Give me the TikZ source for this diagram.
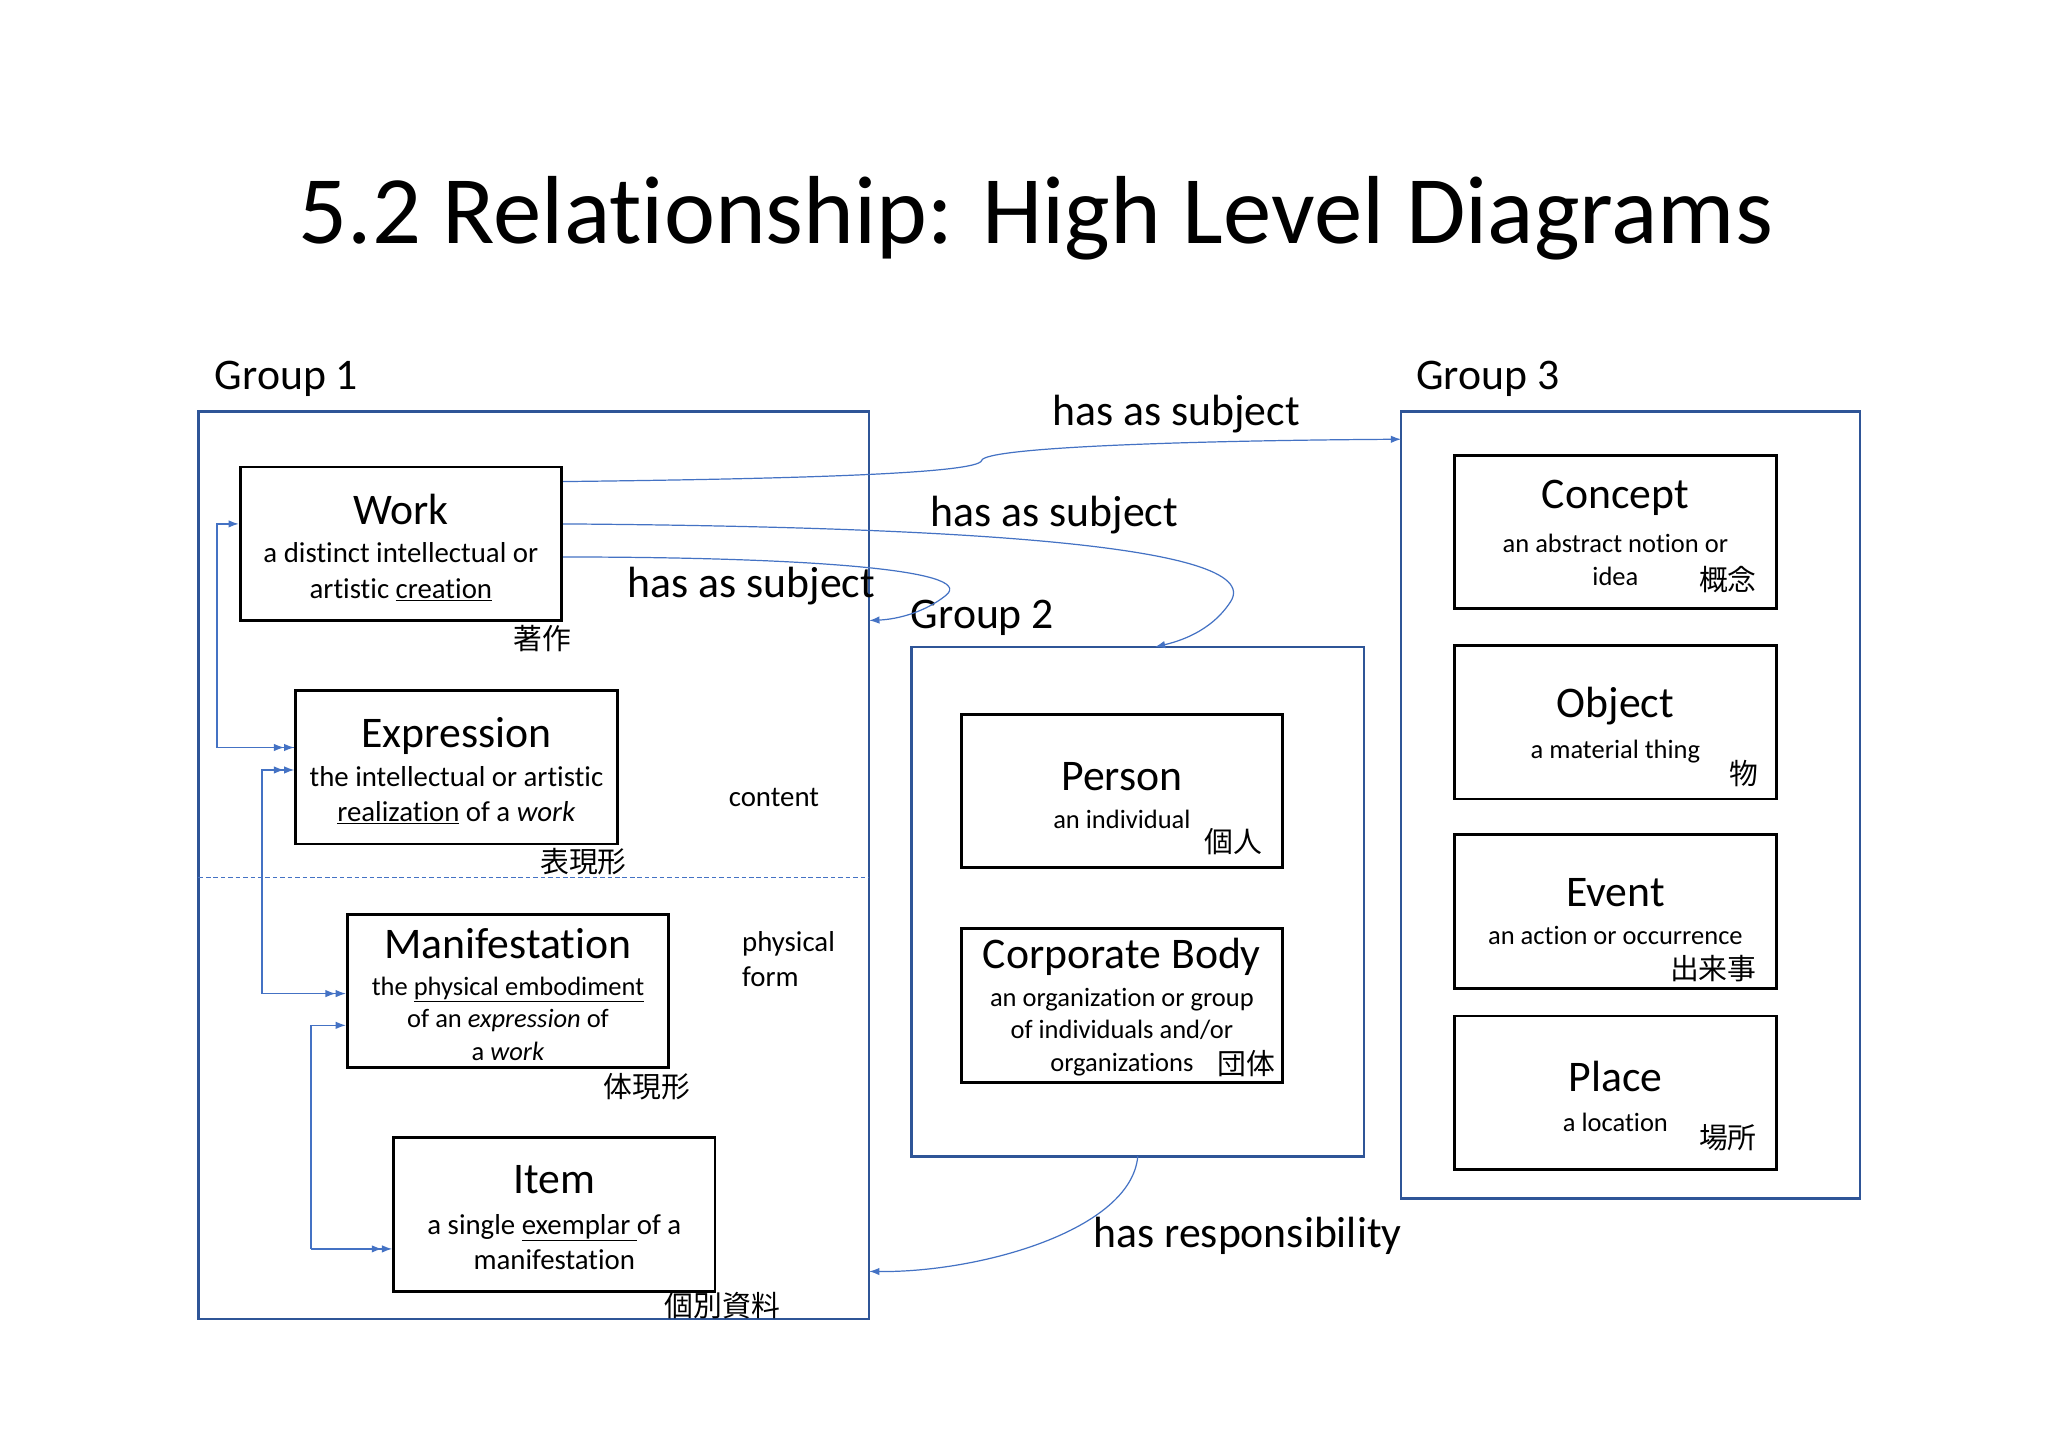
\documentclass[tikz,border=0pt]{standalone}
\usepackage{fontspec}
\setmainfont{Carlito}[Ligatures={NoCommon}]
\newfontfamily\cjk{Noto Sans CJK JP}
\usetikzlibrary{arrows.meta}
\definecolor{gb}{RGB}{47,85,151}
\definecolor{ab}{RGB}{68,114,196}
\begin{document}
\begin{tikzpicture}[x=0.05cm,y=-0.05cm,
 grp/.style={draw=gb,line width=2.6pt},
 box/.style={draw=black,line width=3pt,minimum width=12.15cm,minimum height=5.8cm,inner sep=0pt},
 ttl/.style={font=\fontsize{47}{50}\selectfont},
 dsc/.style={font=\fontsize{31}{38}\selectfont,align=center},
 sdsc/.style={font=\fontsize{28.5}{35}\selectfont,align=center},
 jp/.style={font=\fontsize{31}{34}\selectfont\cjk},
 lbl/.style={font=\fontsize{47}{52}\selectfont},
 ar/.style={draw=ab,line width=1.3pt,-{Latex[length=11pt,width=8pt]}},
 ar2/.style={draw=ab,line width=1.3pt,-{Latex[length=11pt,width=8pt]Latex[length=11pt,width=8pt]}}]
\useasboundingbox (0,0) rectangle (1548,1094);
\fill[white] (0,0) rectangle (1548,1094);
\node[font=\fontsize{104}{110}\selectfont] (title) at (783,165) {5.2 Relationship: High Level Diagrams};
% groups
\draw[grp] (150,311) rectangle (657,997);
\draw[grp] (689,489) rectangle (1031,874);
\draw[grp] (1059,311) rectangle (1406,906);
\coordinate (g1r) at (657,469);
\coordinate (g1r2) at (657,961);
\coordinate (g2t) at (873,489);
\coordinate (g2b) at (860,874);
\coordinate (g3l) at (1059,332);
\node[lbl,anchor=west] (G1) at (160,286) {Group 1};
\node[lbl,anchor=west] (G2) at (686,467) {Group 2};
\node[lbl,anchor=west] (G3) at (1068,286) {Group 3};
\draw[ab,dash pattern=on 5pt off 3pt,line width=1.1pt] (150,663) -- (657,663);
% group 1 boxes
\node[box] (work) at (303,411) {};
\node[ttl] (workt) at (303,385) {Work};
\node[dsc] (workd) at (303,432) {a distinct intellectual or\\artistic \underline{creation}};
\node[jp] (workj) at (410,483) {著作};
\node[box] (expr) at (345,580) {};
\node[ttl] (exprt) at (345,556) {Expression};
\node[dsc] (exprd) at (345,601) {the intellectual or artistic\\\underline{realization} of a \emph{work}};
\node[jp] (exprj) at (441,651) {表現形};
\node[box] (mani) at (384,749) {};
\node[ttl] (manit) at (384,713) {Manifestation};
\node[sdsc] (manid) at (384,770) {the \underline{physical embodiment}\\of an \emph{expression} of\\a \emph{work}};
\node[jp] (manij) at (489,821) {体現形};
\node[box] (item) at (419,918) {};
\node[ttl] (itemt) at (419,892) {Item};
\node[dsc] (itemd) at (419,939) {a single \underline{exemplar }of a\\manifestation};
\node[jp] (itemj) at (546,987) {個別資料};
\node[sdsc,font=\fontsize{31}{38}\selectfont] (cont) at (585,603) {content};
\node[dsc,align=left] (phys) at (596,725) {physical\\form};
% group 2
\node[box] (pers) at (848,598) {};
\node[ttl] (perst) at (848,587) {Person};
\node[sdsc] (persd) at (848,619) {an individual};
\node[jp] (persj) at (932,636) {個人};
\node[box] (corp) at (848,760) {};
\node[ttl] (corpt) at (848,723) {Corporate Body};
\node[sdsc] (corpd) at (848,780) {an organization or group\\of individuals and/or\\organizations};
\node[jp] (corpj) at (942,804) {団体};
% group 3
\node[box] (conc) at (1221,402) {};
\node[ttl] (conct) at (1221,376) {Concept};
\node[sdsc] (concd) at (1221,423) {an abstract notion or\\idea};
\node[jp] (concj) at (1306,438) {概念};
\node[box] (obj) at (1221,546) {};
\node[ttl] (objt) at (1221,534) {Object};
\node[sdsc] (objd) at (1221,568) {a material thing};
\node[jp] (objj) at (1318,585) {物};
\node[box] (evt) at (1221,689) {};
\node[ttl] (evtt) at (1221,675) {Event};
\node[sdsc] (evtd) at (1221,707) {an action or occurrence};
\node[jp] (evtj) at (1295,732) {出来事};
\node[box] (plc) at (1221,826) {};
\node[ttl] (plct) at (1221,814) {Place};
\node[sdsc] (plcd) at (1221,848) {a location};
\node[jp] (plcj) at (1306,860) {場所};
% relationships
\draw[ar] (work.east|-0,364) .. controls (600,362) and (740,358) .. (742,348) .. controls (745,338) and (900,333) .. (g3l);
\draw[ar] (work.east|-0,396) .. controls (700,398) and (960,410) .. (930,455) .. controls (915,478) and (890,485) .. (g2t);
\draw[ar] (work.east|-0,421) .. controls (600,421) and (740,430) .. (715,450) .. controls (700,462) and (680,468) .. (g1r);
\draw[ar] (g2b) .. controls (855,930) and (740,962) .. (g1r2);
\node[lbl] (l1) at (889,313) {has as subject};
\node[lbl] (l2) at (797,389) {has as subject};
\node[lbl] (l3) at (568,443) {has as subject};
\node[lbl] (l4) at (943,934) {has responsibility};
% left hierarchy
\draw[ar] (expr.west|-0,565) -- (164,565) -- (164,396) -- (work.west|-0,396);
\draw[ar2] (164,565) -- (expr.west|-0,565);
\draw[ar2] (198,751) -- (198,582) -- (expr.west|-0,582);
\draw[ar2] (198,751) -- (mani.west|-0,751);
\draw[ar] (235,944) -- (235,775) -- (mani.west|-0,775);
\draw[ar2] (235,944) -- (item.west|-0,944);
\end{tikzpicture}
\end{document}
